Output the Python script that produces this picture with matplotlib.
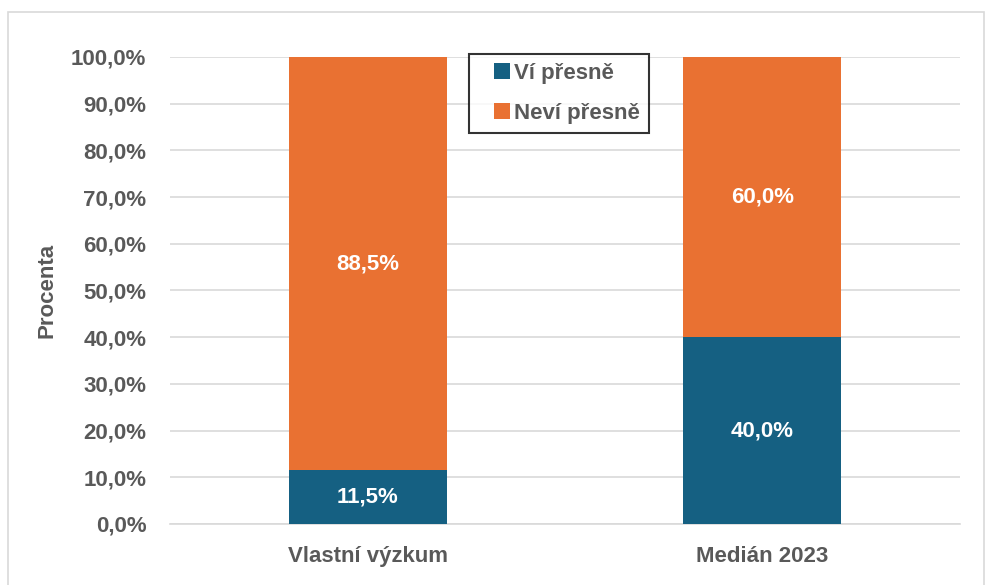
import matplotlib
matplotlib.use("Agg")
import matplotlib.pyplot as plt
from matplotlib.patches import Rectangle
from matplotlib.container import BarContainer
from matplotlib.legend_handler import HandlerPatch, update_from_first_child

categories = ["Vlastní výzkum", "Medián 2023"]
vi_presne = [11.5, 40.0]
nevi_presne = [88.5, 60.0]
series_names = ["Ví přesně", "Neví přesně"]

blue = "#156082"
orange = "#E97132"
gray = "#595959"

plt.rcParams["font.family"] = ["Liberation Sans", "DejaVu Sans"]
plt.rcParams["font.weight"] = "bold"
fs = 16

fig = plt.figure(figsize=(9.92, 5.85), dpi=100)
ax = fig.add_axes([0.1714, 0.1043, 0.7963, 0.7983])

x = range(len(categories))
b1 = ax.bar(x, vi_presne, width=0.4, color=blue, label=series_names[0], zorder=3)
b2 = ax.bar(x, nevi_presne, width=0.4, bottom=vi_presne, color=orange,
            label=series_names[1], zorder=3)

for bars, vals, bottoms in [(b1, vi_presne, [0, 0]), (b2, nevi_presne, vi_presne)]:
    for rect, v, b in zip(bars, vals, bottoms):
        ax.text(rect.get_x() + rect.get_width() / 2, b + v / 2,
                f"{v:.1f}%".replace(".", ","), ha="center", va="center",
                color="white", fontsize=fs, fontweight="bold", zorder=4)

ax.set_xlim(-0.5, 1.5)
ax.set_ylim(0, 100)
ax.set_yticks(range(0, 101, 10))
ax.set_yticklabels([f"{t},0%" for t in range(0, 101, 10)])
ax.set_xticks(list(x))
ax.set_xticklabels(categories)
ax.tick_params(axis="both", length=0, labelsize=fs, labelcolor=gray)
ax.tick_params(axis="y", pad=17)
ax.tick_params(axis="x", pad=16)
ax.grid(axis="y", color="#D9D9D9", linewidth=1.2, zorder=0)
for s in ["top", "right", "left"]:
    ax.spines[s].set_visible(False)
ax.spines["bottom"].set_color("#D9D9D9")
ax.spines["bottom"].set_linewidth(1.2)
ax.set_ylabel("Procenta", fontsize=fs, color=gray, fontweight="bold", labelpad=10)


# square legend marker pushed to the right of the handle box
def square(legend, orig_handle, xdescent, ydescent, width, height, fontsize):
    s = height * 1.1
    return Rectangle((width - s - xdescent, -ydescent + (height - s) / 2), s, s)


leg = ax.legend(loc="upper left", bbox_to_anchor=(0.378, 1.006), frameon=True,
                fancybox=False, edgecolor="black", fontsize=fs,
                handlelength=1.45, handleheight=0.6, handletextpad=0.2,
                labelspacing=0.85, borderpad=0.4, borderaxespad=0,
                handler_map={BarContainer: HandlerPatch(
                    patch_func=square, update_func=update_from_first_child)})
leg.get_frame().set_linewidth(1.5)
for t in leg.get_texts():
    t.set_color(gray)

fig.patches.append(Rectangle((0.008, -0.01), 0.984, 0.99, transform=fig.transFigure,
                             fill=False, edgecolor="#D9D9D9", linewidth=1.2))

fig.savefig("out.png", dpi=100)
